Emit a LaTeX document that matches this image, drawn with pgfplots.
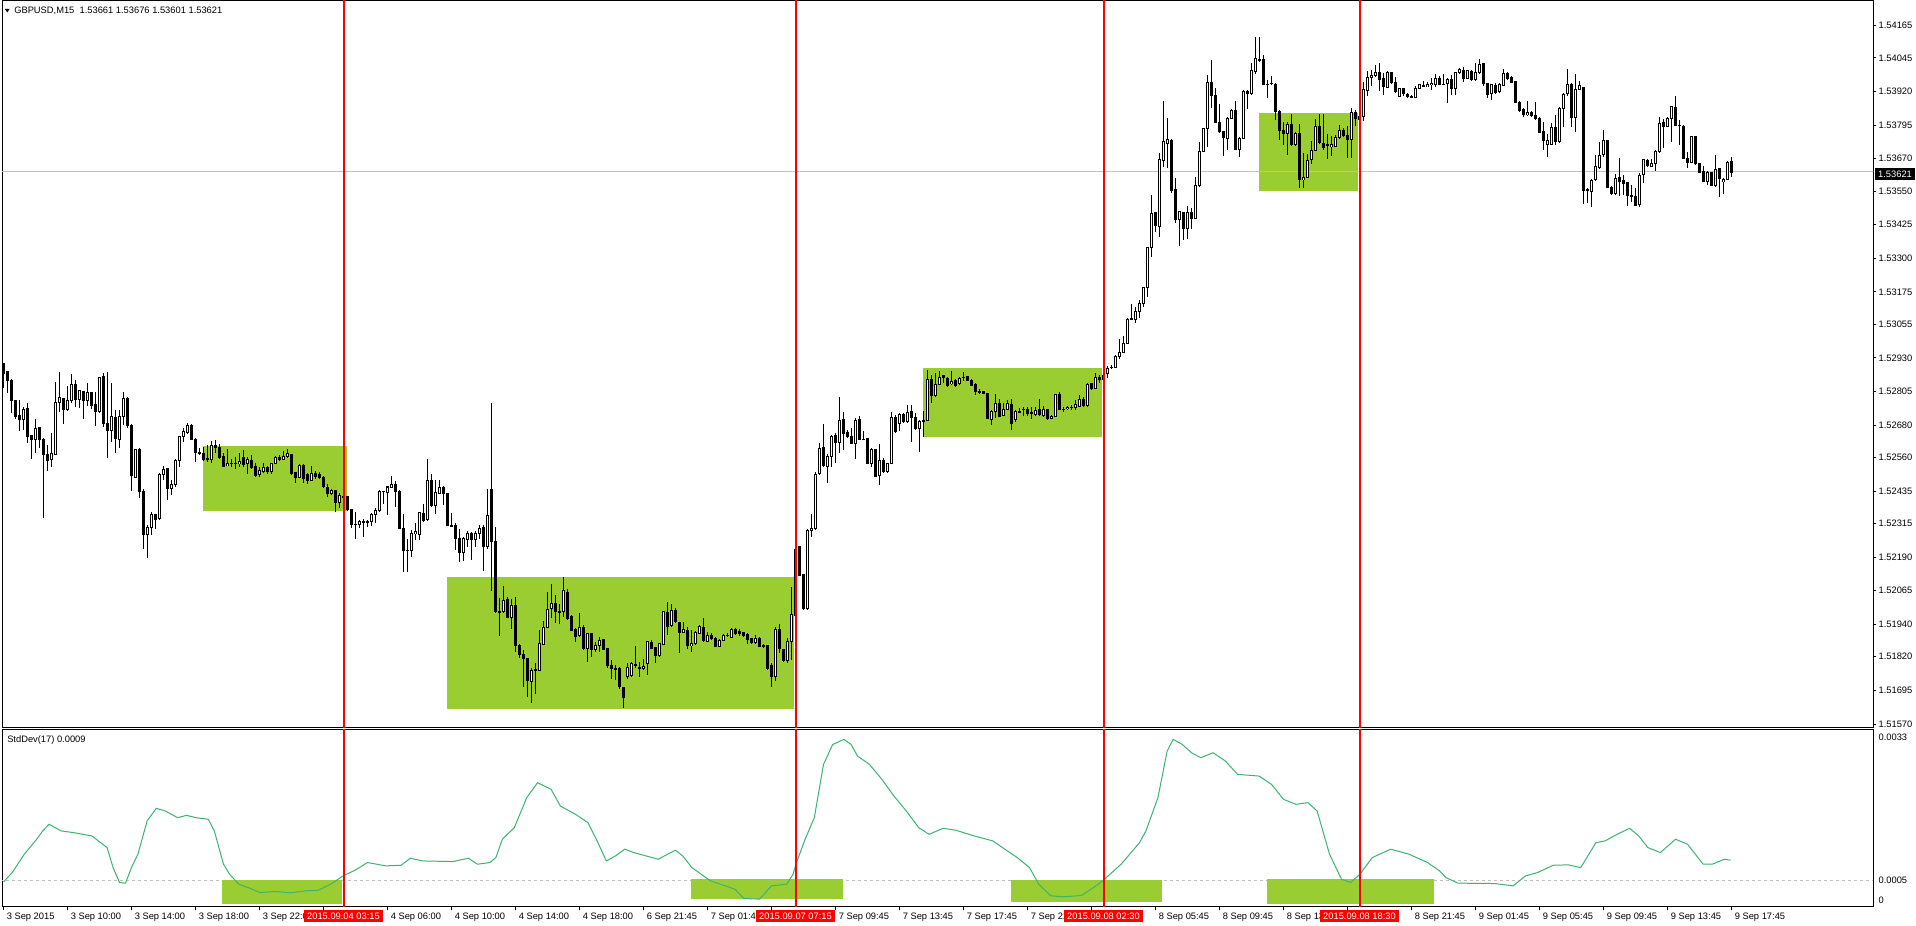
\documentclass[border=0pt]{standalone}
\usepackage{fontspec}
\setmainfont{Liberation Sans}
\usepackage{pgfplots}
\usepackage{pgfplotstable}
\pgfplotsset{compat=1.18}

\definecolor{zone}{RGB}{154,205,50}
\definecolor{sdcol}{RGB}{60,179,113}
\definecolor{lvl}{RGB}{192,192,192}

% GBPUSD M15 bars: index, open, high, low, close
\pgfplotstableread{
i o h l c
0 1.52908 1.52912 1.52817 1.52873
1 1.52879 1.52883 1.52801 1.52848
2 1.52848 1.52851 1.52727 1.52772
3 1.52774 1.52777 1.52706 1.52712
4 1.52718 1.52774 1.52660 1.52704
5 1.52702 1.52749 1.52663 1.52741
6 1.52741 1.52762 1.52613 1.52638
7 1.52640 1.52644 1.52554 1.52628
8 1.52628 1.52702 1.52578 1.52669
9 1.52670 1.52673 1.52595 1.52628
10 1.52629 1.52632 1.52334 1.52572
11 1.52573 1.52607 1.52512 1.52549
12 1.52554 1.52650 1.52526 1.52576
13 1.52573 1.52842 1.52570 1.52767
14 1.52767 1.52877 1.52728 1.52784
15 1.52780 1.52783 1.52685 1.52739
16 1.52739 1.52824 1.52734 1.52773
17 1.52773 1.52871 1.52765 1.52830
18 1.52830 1.52848 1.52748 1.52777
19 1.52777 1.52811 1.52746 1.52808
20 1.52805 1.52809 1.52705 1.52772
21 1.52772 1.52840 1.52753 1.52801
22 1.52801 1.52805 1.52741 1.52754
23 1.52756 1.52805 1.52678 1.52731
24 1.52731 1.52861 1.52727 1.52858
25 1.52863 1.52873 1.52673 1.52687
26 1.52689 1.52879 1.52561 1.52663
27 1.52663 1.52836 1.52619 1.52713
28 1.52711 1.52737 1.52578 1.52630
29 1.52630 1.52739 1.52597 1.52713
30 1.52713 1.52806 1.52680 1.52780
31 1.52780 1.52786 1.52673 1.52681
32 1.52681 1.52684 1.52434 1.52493
33 1.52489 1.52595 1.52488 1.52592
34 1.52592 1.52598 1.52412 1.52434
35 1.52436 1.52444 1.52221 1.52274
36 1.52274 1.52310 1.52188 1.52301
37 1.52301 1.52357 1.52273 1.52351
38 1.52348 1.52353 1.52297 1.52333
39 1.52333 1.52502 1.52328 1.52498
40 1.52498 1.52529 1.52477 1.52518
41 1.52518 1.52520 1.52401 1.52445
42 1.52445 1.52477 1.52419 1.52462
43 1.52462 1.52554 1.52452 1.52549
44 1.52549 1.52642 1.52524 1.52639
45 1.52638 1.52669 1.52619 1.52659
46 1.52656 1.52690 1.52650 1.52681
47 1.52681 1.52684 1.52626 1.52628
48 1.52629 1.52632 1.52545 1.52578
49 1.52580 1.52597 1.52570 1.52576
50 1.52576 1.52601 1.52549 1.52554
51 1.52556 1.52606 1.52544 1.52556
52 1.52554 1.52623 1.52541 1.52606
53 1.52606 1.52624 1.52577 1.52597
54 1.52598 1.52609 1.52556 1.52561
55 1.52564 1.52578 1.52524 1.52526
56 1.52531 1.52592 1.52529 1.52539
57 1.52539 1.52554 1.52524 1.52539
58 1.52539 1.52562 1.52520 1.52539
59 1.52538 1.52576 1.52524 1.52546
60 1.52561 1.52588 1.52524 1.52536
61 1.52539 1.52564 1.52499 1.52554
62 1.52550 1.52570 1.52519 1.52524
63 1.52529 1.52539 1.52487 1.52493
64 1.52498 1.52526 1.52489 1.52510
65 1.52508 1.52541 1.52505 1.52525
66 1.52525 1.52529 1.52499 1.52508
67 1.52508 1.52542 1.52502 1.52539
68 1.52539 1.52566 1.52538 1.52562
69 1.52562 1.52569 1.52546 1.52554
70 1.52554 1.52583 1.52551 1.52566
71 1.52564 1.52593 1.52561 1.52576
72 1.52573 1.52576 1.52495 1.52499
73 1.52504 1.52508 1.52467 1.52487
74 1.52487 1.52536 1.52484 1.52531
75 1.52531 1.52534 1.52465 1.52483
76 1.52500 1.52504 1.52462 1.52477
77 1.52477 1.52531 1.52473 1.52502
78 1.52502 1.52512 1.52479 1.52492
79 1.52498 1.52507 1.52482 1.52487
80 1.52488 1.52491 1.52448 1.52452
81 1.52451 1.52462 1.52415 1.52427
82 1.52427 1.52443 1.52424 1.52439
83 1.52437 1.52442 1.52358 1.52394
84 1.52394 1.52430 1.52374 1.52419
85 1.52415 1.52446 1.52378 1.52415
86 1.52415 1.52419 1.52363 1.52368
87 1.52368 1.52370 1.52300 1.52312
88 1.52313 1.52357 1.52258 1.52313
89 1.52312 1.52328 1.52300 1.52321
90 1.52322 1.52330 1.52266 1.52322
91 1.52323 1.52328 1.52304 1.52323
92 1.52323 1.52354 1.52306 1.52351
93 1.52351 1.52372 1.52318 1.52365
94 1.52363 1.52440 1.52359 1.52436
95 1.52434 1.52436 1.52390 1.52434
96 1.52430 1.52456 1.52348 1.52451
97 1.52450 1.52491 1.52448 1.52462
98 1.52462 1.52474 1.52378 1.52435
99 1.52436 1.52440 1.52295 1.52296
100 1.52297 1.52351 1.52133 1.52216
101 1.52217 1.52259 1.52138 1.52217
102 1.52216 1.52291 1.52190 1.52279
103 1.52276 1.52318 1.52254 1.52284
104 1.52276 1.52358 1.52254 1.52356
105 1.52354 1.52388 1.52322 1.52328
106 1.52328 1.52555 1.52326 1.52476
107 1.52476 1.52499 1.52378 1.52382
108 1.52382 1.52477 1.52351 1.52431
109 1.52427 1.52477 1.52425 1.52447
110 1.52450 1.52455 1.52382 1.52427
111 1.52429 1.52430 1.52305 1.52307
112 1.52308 1.52353 1.52304 1.52308
113 1.52308 1.52316 1.52217 1.52259
114 1.52260 1.52295 1.52174 1.52207
115 1.52207 1.52266 1.52177 1.52260
116 1.52256 1.52286 1.52229 1.52276
117 1.52276 1.52285 1.52180 1.52256
118 1.52256 1.52287 1.52229 1.52279
119 1.52276 1.52310 1.52258 1.52296
120 1.52300 1.52310 1.52140 1.52229
121 1.52229 1.52446 1.52223 1.52347
122 1.52444 1.52764 1.52066 1.52248
123 1.52250 1.52301 1.51984 1.51988
124 1.51988 1.52038 1.51898 1.51988
125 1.51988 1.52083 1.51982 1.52031
126 1.52034 1.52044 1.51963 1.51966
127 1.51966 1.52034 1.51924 1.52013
128 1.52013 1.52041 1.51839 1.51862
129 1.51864 1.51867 1.51815 1.51830
130 1.51831 1.51846 1.51709 1.51815
131 1.51812 1.51815 1.51670 1.51732
132 1.51728 1.51778 1.51648 1.51771
133 1.51773 1.51796 1.51682 1.51773
134 1.51769 1.51920 1.51768 1.51870
135 1.51867 1.51955 1.51864 1.51930
136 1.51930 1.52060 1.51926 1.51997
137 1.51999 1.52091 1.51963 1.52019
138 1.52019 1.52050 1.51945 1.51988
139 1.51988 1.52019 1.51945 1.51988
140 1.51988 1.52116 1.51969 1.52065
141 1.52060 1.52073 1.51957 1.51963
142 1.51972 1.51976 1.51917 1.51920
143 1.51922 1.51926 1.51877 1.51895
144 1.51898 1.51982 1.51895 1.51930
145 1.51932 1.51939 1.51846 1.51852
146 1.51852 1.51910 1.51802 1.51908
147 1.51908 1.51910 1.51821 1.51848
148 1.51848 1.51877 1.51839 1.51864
149 1.51864 1.51895 1.51839 1.51883
150 1.51883 1.51889 1.51846 1.51848
151 1.51851 1.51852 1.51778 1.51787
152 1.51789 1.51809 1.51737 1.51776
153 1.51776 1.51790 1.51734 1.51776
154 1.51778 1.51784 1.51700 1.51712
155 1.51707 1.51709 1.51629 1.51669
156 1.51747 1.51796 1.51740 1.51781
157 1.51753 1.51802 1.51747 1.51796
158 1.51790 1.51861 1.51778 1.51790
159 1.51780 1.51802 1.51747 1.51780
160 1.51778 1.51811 1.51771 1.51786
161 1.51796 1.51879 1.51753 1.51877
162 1.51874 1.51883 1.51848 1.51852
163 1.51853 1.51856 1.51796 1.51825
164 1.51825 1.51873 1.51821 1.51870
165 1.51868 1.51992 1.51864 1.51988
166 1.51988 1.52025 1.51901 1.51936
167 1.51936 1.52019 1.51932 1.51994
168 1.51994 1.52000 1.51947 1.51951
169 1.51948 1.51950 1.51837 1.51910
170 1.51910 1.51951 1.51908 1.51920
171 1.51920 1.51932 1.51852 1.51864
172 1.51863 1.51920 1.51837 1.51868
173 1.51867 1.51914 1.51864 1.51908
174 1.51908 1.51939 1.51905 1.51932
175 1.51930 1.51966 1.51877 1.51879
176 1.51879 1.51914 1.51875 1.51901
177 1.51901 1.51910 1.51883 1.51889
178 1.51889 1.51893 1.51858 1.51860
179 1.51860 1.51889 1.51858 1.51883
180 1.51883 1.51905 1.51879 1.51900
181 1.51900 1.51908 1.51893 1.51900
182 1.51893 1.51926 1.51889 1.51922
183 1.51922 1.51926 1.51901 1.51908
184 1.51914 1.51925 1.51898 1.51905
185 1.51910 1.51913 1.51895 1.51898
186 1.51903 1.51908 1.51868 1.51885
187 1.51888 1.51891 1.51868 1.51873
188 1.51873 1.51901 1.51870 1.51887
189 1.51887 1.51895 1.51856 1.51858
190 1.51864 1.51870 1.51852 1.51858
191 1.51860 1.51863 1.51771 1.51778
192 1.51787 1.51796 1.51709 1.51747
193 1.51747 1.51932 1.51728 1.51922
194 1.51922 1.51942 1.51833 1.51852
195 1.51846 1.51848 1.51802 1.51806
196 1.51806 1.51889 1.51796 1.51877
197 1.51877 1.52081 1.51809 1.51979
198 1.51973 1.52248 1.51969 1.52220
199 1.52229 1.52233 1.52122 1.52124
200 1.52128 1.52130 1.51994 1.52000
201 1.51998 1.52294 1.51994 1.52291
202 1.52291 1.52353 1.52267 1.52298
203 1.52298 1.52508 1.52291 1.52499
204 1.52499 1.52613 1.52496 1.52595
205 1.52598 1.52685 1.52527 1.52529
206 1.52527 1.52576 1.52467 1.52564
207 1.52564 1.52644 1.52527 1.52639
208 1.52644 1.52650 1.52539 1.52616
209 1.52616 1.52784 1.52576 1.52700
210 1.52700 1.52730 1.52588 1.52650
211 1.52655 1.52663 1.52632 1.52638
212 1.52640 1.52669 1.52611 1.52613
213 1.52613 1.52706 1.52554 1.52700
214 1.52700 1.52715 1.52626 1.52629
215 1.52629 1.52660 1.52626 1.52629
216 1.52632 1.52634 1.52536 1.52539
217 1.52539 1.52595 1.52527 1.52591
218 1.52591 1.52595 1.52489 1.52493
219 1.52493 1.52613 1.52458 1.52549
220 1.52551 1.52557 1.52504 1.52508
221 1.52508 1.52541 1.52504 1.52539
222 1.52539 1.52731 1.52536 1.52710
223 1.52710 1.52718 1.52653 1.52657
224 1.52687 1.52727 1.52660 1.52722
225 1.52722 1.52727 1.52690 1.52694
226 1.52694 1.52756 1.52690 1.52727
227 1.52731 1.52756 1.52617 1.52712
228 1.52710 1.52727 1.52665 1.52669
229 1.52669 1.52700 1.52582 1.52696
230 1.52697 1.52735 1.52638 1.52697
231 1.52697 1.52886 1.52694 1.52851
232 1.52851 1.52868 1.52762 1.52791
233 1.52791 1.52874 1.52787 1.52833
234 1.52833 1.52880 1.52830 1.52859
235 1.52864 1.52868 1.52839 1.52855
236 1.52855 1.52859 1.52824 1.52830
237 1.52834 1.52880 1.52830 1.52843
238 1.52846 1.52855 1.52824 1.52828
239 1.52834 1.52861 1.52830 1.52853
240 1.52858 1.52876 1.52843 1.52858
241 1.52861 1.52864 1.52843 1.52846
242 1.52849 1.52851 1.52827 1.52830
243 1.52833 1.52837 1.52793 1.52806
244 1.52806 1.52814 1.52797 1.52806
245 1.52804 1.52809 1.52797 1.52799
246 1.52799 1.52802 1.52703 1.52704
247 1.52704 1.52738 1.52682 1.52731
248 1.52731 1.52797 1.52707 1.52762
249 1.52762 1.52777 1.52710 1.52713
250 1.52719 1.52762 1.52713 1.52740
251 1.52740 1.52775 1.52738 1.52762
252 1.52759 1.52778 1.52663 1.52686
253 1.52700 1.52738 1.52694 1.52731
254 1.52731 1.52744 1.52725 1.52731
255 1.52740 1.52750 1.52713 1.52740
256 1.52740 1.52750 1.52713 1.52725
257 1.52728 1.52750 1.52703 1.52728
258 1.52721 1.52747 1.52717 1.52738
259 1.52738 1.52778 1.52713 1.52719
260 1.52718 1.52750 1.52710 1.52738
261 1.52738 1.52740 1.52700 1.52707
262 1.52707 1.52719 1.52703 1.52715
263 1.52713 1.52797 1.52710 1.52793
264 1.52793 1.52802 1.52738 1.52740
265 1.52740 1.52750 1.52731 1.52740
266 1.52740 1.52752 1.52735 1.52747
267 1.52747 1.52756 1.52738 1.52747
268 1.52744 1.52775 1.52738 1.52756
269 1.52752 1.52793 1.52750 1.52777
270 1.52778 1.52787 1.52750 1.52756
271 1.52754 1.52837 1.52747 1.52833
272 1.52834 1.52837 1.52814 1.52818
273 1.52818 1.52876 1.52814 1.52859
274 1.52859 1.52868 1.52837 1.52849
275 1.52849 1.52871 1.52830 1.52864
276 1.52871 1.52901 1.52855 1.52892
277 1.52896 1.52903 1.52889 1.52896
278 1.52896 1.52942 1.52892 1.52936
279 1.52936 1.53000 1.52929 1.52952
280 1.52952 1.53012 1.52948 1.52985
281 1.52985 1.53078 1.52983 1.53074
282 1.53076 1.53131 1.53072 1.53076
283 1.53076 1.53121 1.53059 1.53103
284 1.53103 1.53146 1.53078 1.53134
285 1.53134 1.53196 1.53121 1.53193
286 1.53193 1.53344 1.53156 1.53340
287 1.53340 1.53536 1.53305 1.53468
288 1.53470 1.53474 1.53400 1.53422
289 1.53418 1.53691 1.53381 1.53666
290 1.53666 1.53885 1.53641 1.53734
291 1.53728 1.53821 1.53635 1.53744
292 1.53740 1.53743 1.53542 1.53552
293 1.53555 1.53598 1.53431 1.53447
294 1.53447 1.53477 1.53347 1.53474
295 1.53472 1.53474 1.53371 1.53412
296 1.53412 1.53493 1.53371 1.53472
297 1.53472 1.53487 1.53412 1.53449
298 1.53449 1.53604 1.53446 1.53573
299 1.53573 1.53734 1.53567 1.53699
300 1.53699 1.53787 1.53697 1.53782
301 1.53782 1.53982 1.53712 1.53954
302 1.53954 1.54037 1.53858 1.53905
303 1.53907 1.53932 1.53802 1.53806
304 1.53806 1.53876 1.53768 1.53771
305 1.53771 1.53771 1.53681 1.53750
306 1.53746 1.53827 1.53703 1.53821
307 1.53821 1.53854 1.53818 1.53849
308 1.53849 1.53885 1.53703 1.53706
309 1.53706 1.53753 1.53676 1.53746
310 1.53746 1.53924 1.53743 1.53920
311 1.53920 1.53926 1.53854 1.53911
312 1.53911 1.54028 1.53907 1.53997
313 1.53994 1.54122 1.53984 1.54044
314 1.54040 1.54122 1.54031 1.54035
315 1.54040 1.54056 1.53945 1.53947
316 1.53947 1.53961 1.53895 1.53947
317 1.53951 1.53978 1.53945 1.53951
318 1.53948 1.53951 1.53815 1.53846
319 1.53846 1.53852 1.53738 1.53775
320 1.53777 1.53808 1.53722 1.53765
321 1.53765 1.53805 1.53685 1.53798
322 1.53798 1.53836 1.53718 1.53724
323 1.53722 1.53771 1.53716 1.53765
324 1.53765 1.53802 1.53561 1.53594
325 1.53592 1.53691 1.53561 1.53602
326 1.53602 1.53687 1.53598 1.53666
327 1.53666 1.53738 1.53651 1.53701
328 1.53701 1.53817 1.53697 1.53790
329 1.53790 1.53836 1.53725 1.53730
330 1.53725 1.53837 1.53703 1.53713
331 1.53722 1.53765 1.53672 1.53722
332 1.53714 1.53753 1.53678 1.53724
333 1.53716 1.53759 1.53713 1.53750
334 1.53750 1.53796 1.53746 1.53775
335 1.53777 1.53784 1.53753 1.53756
336 1.53759 1.53790 1.53672 1.53743
337 1.53743 1.53858 1.53672 1.53843
338 1.53842 1.53852 1.53790 1.53821
339 1.53818 1.53833 1.53784 1.53827
340 1.53827 1.53957 1.53812 1.53930
341 1.53924 1.53998 1.53904 1.53973
342 1.53973 1.54000 1.53941 1.53982
343 1.53979 1.54019 1.53976 1.53990
344 1.53990 1.54028 1.53924 1.53966
345 1.53969 1.53988 1.53907 1.53938
346 1.53935 1.53998 1.53932 1.53992
347 1.53992 1.53994 1.53948 1.53953
348 1.53953 1.53973 1.53916 1.53920
349 1.53901 1.53932 1.53899 1.53930
350 1.53930 1.53932 1.53904 1.53911
351 1.53911 1.53916 1.53895 1.53904
352 1.53901 1.53906 1.53899 1.53901
353 1.53898 1.53941 1.53895 1.53932
354 1.53932 1.53947 1.53928 1.53945
355 1.53942 1.53958 1.53938 1.53942
356 1.53938 1.53957 1.53936 1.53947
357 1.53947 1.53969 1.53926 1.53951
358 1.53947 1.53985 1.53938 1.53969
359 1.53969 1.53976 1.53945 1.53948
360 1.53948 1.53985 1.53945 1.53948
361 1.53951 1.53969 1.53876 1.53963
362 1.53963 1.53982 1.53907 1.53932
363 1.53932 1.53994 1.53907 1.53992
364 1.53992 1.54009 1.53985 1.54003
365 1.54000 1.54013 1.53957 1.53969
366 1.53969 1.54000 1.53966 1.53998
367 1.53994 1.54000 1.53959 1.53963
368 1.53963 1.54025 1.53961 1.53990
369 1.53990 1.54040 1.53985 1.54023
370 1.54023 1.54025 1.53941 1.53951
371 1.53951 1.53953 1.53895 1.53911
372 1.53911 1.53947 1.53889 1.53945
373 1.53945 1.53951 1.53911 1.53916
374 1.53920 1.53951 1.53916 1.53945
375 1.53942 1.54003 1.53941 1.53988
376 1.53988 1.53994 1.53963 1.53969
377 1.53971 1.53976 1.53951 1.53953
378 1.53957 1.53959 1.53876 1.53880
379 1.53881 1.53886 1.53846 1.53852
380 1.53854 1.53858 1.53827 1.53836
381 1.53833 1.53883 1.53829 1.53843
382 1.53844 1.53846 1.53827 1.53831
383 1.53833 1.53883 1.53815 1.53820
384 1.53820 1.53825 1.53765 1.53769
385 1.53771 1.53805 1.53703 1.53740
386 1.53724 1.53765 1.53678 1.53740
387 1.53724 1.53805 1.53722 1.53787
388 1.53786 1.53833 1.53722 1.53734
389 1.53734 1.53864 1.53728 1.53858
390 1.53858 1.53914 1.53790 1.53911
391 1.53911 1.54003 1.53904 1.53948
392 1.53948 1.53951 1.53790 1.53825
393 1.53825 1.53985 1.53771 1.53928
394 1.53928 1.53959 1.53926 1.53941
395 1.53936 1.53938 1.53505 1.53552
396 1.53555 1.53561 1.53505 1.53555
397 1.53552 1.53594 1.53493 1.53592
398 1.53592 1.53685 1.53589 1.53641
399 1.53639 1.53734 1.53635 1.53685
400 1.53685 1.53777 1.53678 1.53738
401 1.53738 1.53740 1.53561 1.53563
402 1.53565 1.53569 1.53536 1.53542
403 1.53542 1.53614 1.53536 1.53598
404 1.53602 1.53672 1.53532 1.53586
405 1.53588 1.53610 1.53536 1.53579
406 1.53582 1.53584 1.53495 1.53532
407 1.53536 1.53573 1.53511 1.53530
408 1.53532 1.53561 1.53495 1.53499
409 1.53501 1.53617 1.53493 1.53610
410 1.53610 1.53669 1.53582 1.53666
411 1.53666 1.53669 1.53641 1.53644
412 1.53641 1.53669 1.53639 1.53654
413 1.53654 1.53703 1.53625 1.53699
414 1.53697 1.53827 1.53691 1.53802
415 1.53805 1.53817 1.53709 1.53792
416 1.53792 1.53827 1.53790 1.53821
417 1.53821 1.53867 1.53734 1.53864
418 1.53860 1.53904 1.53792 1.53796
419 1.53796 1.53815 1.53722 1.53796
420 1.53792 1.53796 1.53669 1.53672
421 1.53672 1.53697 1.53635 1.53656
422 1.53656 1.53755 1.53654 1.53753
423 1.53753 1.53755 1.53647 1.53651
424 1.53651 1.53654 1.53617 1.53619
425 1.53623 1.53644 1.53583 1.53586
426 1.53586 1.53623 1.53573 1.53621
427 1.53621 1.53624 1.53571 1.53573
428 1.53573 1.53685 1.53567 1.53631
429 1.53633 1.53635 1.53530 1.53598
430 1.53584 1.53598 1.53540 1.53594
431 1.53594 1.53664 1.53592 1.53657
432 1.53661 1.53676 1.53601 1.53621
}\bars

% StdDev(17)
\pgfplotstableread{
i v
0 0.000469
2.2 0.000655
5.2 0.001018
8.3 0.001316
9.8 0.001481
11.4 0.001613
14.4 0.001481
17.5 0.001448
22.1 0.001381
25.9 0.001150
27.4 0.000753
29.0 0.000457
30.5 0.000444
32.0 0.000753
33.6 0.001018
35.9 0.001679
38.2 0.001930
40.5 0.001876
43.5 0.001744
45.8 0.001790
48.1 0.001744
51.2 0.001711
52.7 0.001481
55.0 0.000820
56.5 0.000622
58.8 0.000423
61.1 0.000357
64.2 0.000257
68.0 0.000278
71.8 0.000252
75.7 0.000292
78.7 0.000303
81.8 0.000423
84.9 0.000588
87.9 0.000701
91.0 0.000853
95.6 0.000787
99.4 0.000799
101.7 0.000939
104.8 0.000885
112.4 0.000872
116.2 0.000939
118.5 0.000820
121.6 0.000853
123.1 0.000953
124.7 0.001316
127.7 0.001546
130.8 0.002141
133.5 0.002439
136.9 0.002307
139.2 0.001976
143.0 0.001811
146.1 0.001646
148.4 0.001283
150.7 0.000885
153.0 0.000985
155.3 0.001118
157.6 0.001051
160.6 0.000985
163.7 0.000918
166.0 0.001018
168.0 0.001097
169.8 0.000985
172.1 0.000753
176.7 0.000490
180.5 0.000390
182.8 0.000325
185.1 0.000138
189.0 0.000127
192.0 0.000390
195.8 0.000423
197.4 0.000622
198.1 0.000820
200.4 0.001316
202.7 0.001744
205.0 0.002802
207.3 0.003198
210.1 0.003298
211.9 0.003198
213.5 0.002967
216.5 0.002802
219.6 0.002504
222.6 0.002174
225.7 0.001876
228.8 0.001546
231.4 0.001414
234.9 0.001533
238.1 0.001494
242.7 0.001381
247.3 0.001283
253.4 0.000953
256.5 0.000753
258.8 0.000423
261.8 0.000192
264.9 0.000173
269.5 0.000198
272.5 0.000357
274.8 0.000490
279.4 0.000820
284.0 0.001248
285.6 0.001481
288.6 0.002141
290.9 0.003065
292.4 0.003298
294.7 0.003198
297.0 0.003033
299.3 0.002935
302.4 0.003033
305.5 0.002867
308.5 0.002604
313.9 0.002570
317.0 0.002405
320.0 0.002109
323.1 0.002009
326.1 0.002042
328.4 0.001876
331.5 0.001018
334.5 0.000522
336.8 0.000457
339.1 0.000622
342.2 0.000953
346.8 0.001118
351.4 0.001018
356.0 0.000853
359.0 0.000688
360.6 0.000555
363.6 0.000444
372.8 0.000436
377.4 0.000390
380.5 0.000588
383.5 0.000655
387.4 0.000799
391.2 0.000807
394.3 0.000753
398.1 0.001248
400.4 0.001283
403.4 0.001414
406.5 0.001533
408.8 0.001381
411.1 0.001150
414.2 0.001051
418.0 0.001316
421.0 0.001216
424.9 0.000820
427.2 0.000820
430.2 0.000918
431.8 0.000899
}\sdev

\newcommand{\tickfont}{\fontsize{7}{8}\selectfont}

\pgfplotsset{
  mt/.style={
    scale only axis, width=1403.25pt,
    xmin=-0.375, xmax=467.375,
    axis line style={black, line width=0.75pt},
    tick style={black, line width=0.75pt},
    tick align=outside,
    major tick length=2.5pt,
    ticklabel style={font=\tickfont, inner sep=0pt},
    ytick pos=right, yticklabel pos=right,
    yticklabel style={anchor=west, xshift=1.5pt},
    scaled y ticks=false,
  },
  candle/.style={draw=none, mark=none, forget plot,
    error bars/y dir=both, error bars/y explicit, error bars/error mark=none},
}

\begin{document}
\begin{tikzpicture}
\path[use as bounding box, fill=white] (0pt,0pt) rectangle (1437pt,693.75pt);

% price window
\begin{axis}[mt, at={(1.5pt,148.5pt)}, anchor=south west, height=544.5pt,
  ymin=1.515589, ymax=1.542560, xtick=\empty,
  ytick={1.51570,1.51695,1.51820,1.51940,1.52065,1.52190,1.52315,1.52435,1.52560,1.52680,1.52805,1.52930,1.53055,1.53175,1.53300,1.53425,1.53550,1.53670,1.53795,1.53920,1.54045,1.54165},
  yticklabels={1.51570,1.51695,1.51820,1.51940,1.52065,1.52190,1.52315,1.52435,1.52560,1.52680,1.52805,1.52930,1.53055,1.53175,1.53300,1.53425,1.53550,1.53670,1.53795,1.53920,1.54045,1.54165}]
  \addplot[draw=none, fill=zone] coordinates {(49.9,1.52603) (85.9,1.52603) (85.9,1.52361) (49.9,1.52361)} --cycle;
  \addplot[draw=none, fill=zone] coordinates {(110.9,1.52116) (197.6,1.52116) (197.6,1.51626) (110.9,1.51626)} --cycle;
  \addplot[draw=none, fill=zone] coordinates {(229.9,1.52893) (274.6,1.52893) (274.6,1.52636) (229.9,1.52636)} --cycle;
  \addplot[draw=none, fill=zone] coordinates {(313.9,1.53840) (338.6,1.53840) (338.6,1.53550) (313.9,1.53550)} --cycle;
  \addplot[lvl, line width=0.75pt] coordinates {(-1,1.53621) (470,1.53621)};
  % wicks
  \addplot[candle, error bars/error bar style={draw=black, line width=0.75pt}]
    table[x=i, y expr=(\thisrow{h}+\thisrow{l})/2, y error expr=(\thisrow{h}-\thisrow{l})/2] {\bars};
  % bodies
  \addplot[candle, error bars/error bar style={draw=black, line width=2.25pt}]
    table[x=i, y expr=(\thisrow{o}+\thisrow{c})/2, y error expr={abs(\thisrow{o}-\thisrow{c})/2+0.0000186}] {\bars};
  % hollow inside of rising bars (zero length for falling ones)
  \addplot[candle, error bars/error bar style={draw=white, line width=0.75pt}]
    table[x=i, y expr=(\thisrow{o}+\thisrow{c})/2, y error expr={max((\thisrow{c}-\thisrow{o})/2-0.0000186,0)}] {\bars};
  \addplot[red, line width=1.5pt] coordinates {(85,1.515) (85,1.543)};
  \addplot[red, line width=1.5pt] coordinates {(198,1.515) (198,1.543)};
  \addplot[red, line width=1.5pt] coordinates {(275,1.515) (275,1.543)};
  \addplot[red, line width=1.5pt] coordinates {(339,1.515) (339,1.543)};
\end{axis}

% StdDev window
\begin{axis}[mt, at={(1.5pt,13.875pt)}, anchor=south west, height=133.125pt,
  ymin=-0.0000199, ymax=0.003505,
  xtick={0,16,...,432}, xtick pos=bottom,
  xticklabels={3 Sep 2015,3 Sep 10:00,3 Sep 14:00,3 Sep 18:00,3 Sep 22:0,{},4 Sep 06:00,4 Sep 10:00,4 Sep 14:00,4 Sep 18:00,6 Sep 21:45,7 Sep 01:45,{},7 Sep 09:45,7 Sep 13:45,7 Sep 17:45,7 Sep 21,{},8 Sep 05:45,8 Sep 09:45,8 Sep 13,{},8 Sep 21:45,9 Sep 01:45,9 Sep 05:45,9 Sep 09:45,9 Sep 13:45,9 Sep 17:45},
  xticklabel style={anchor=north west, xshift=2.25pt, yshift=-2pt},
  ytick={0.000103,0.0005,0.003346}, yticklabels={0,0.0005,0.0033},
  ytick style={draw=none}]
  \addplot[lvl, line width=0.75pt, dash pattern=on 2.25pt off 2.25pt] coordinates {(-1,0.0005) (470,0.0005)};
  \addplot[draw=none, fill=zone] coordinates {(54.7,0.000506) (84.55,0.000506) (84.55,0.0000357) (54.7,0.0000357)} --cycle;
  \addplot[draw=none, fill=zone] coordinates {(171.8,0.000526) (209.9,0.000526) (209.9,0.000135) (171.8,0.000135)} --cycle;
  \addplot[draw=none, fill=zone] coordinates {(251.9,0.000506) (289.7,0.000506) (289.7,0.0000755) (251.9,0.0000755)} --cycle;
  \addplot[draw=none, fill=zone] coordinates {(315.9,0.000526) (357.7,0.000526) (357.7,0.0000357) (315.9,0.0000357)} --cycle;
  \addplot[sdcol, line width=0.75pt] table[x=i, y=v] {\sdev};
  \addplot[red, line width=1.5pt] coordinates {(85,-0.0001) (85,0.0036)};
  \addplot[red, line width=1.5pt] coordinates {(198,-0.0001) (198,0.0036)};
  \addplot[red, line width=1.5pt] coordinates {(275,-0.0001) (275,0.0036)};
  \addplot[red, line width=1.5pt] coordinates {(339,-0.0001) (339,0.0036)};
\end{axis}

\begin{scope}[x=0.75pt, y=0.75pt]
% window captions
\fill[black] (5,916) -- (9.5,916) -- (7.25,912.5) -- cycle;
\node[anchor=base west, inner sep=0pt, font=\tickfont] at (14,911) {GBPUSD,M15\ \ 1.53661 1.53676 1.53601 1.53621};
\node[anchor=base west, inner sep=0pt, font=\tickfont] at (7,183) {StdDev(17) 0.0009};
% bid price tag
\node[fill=black, text=white, inner sep=0pt, minimum width=30pt, minimum height=9pt, font=\tickfont] at (1895,751) {1.53621};
% time tags of the vertical lines
\foreach \xx/\lab in {343.5/2015.09.04 03:15, 795.5/2015.09.07 07:15, 1103.5/2015.09.08 02:30, 1359.5/2015.09.08 18:30}
  \node[fill=red, text=white, inner sep=0pt, minimum width=59.25pt, minimum height=9pt, font=\tickfont] at (\xx,9) {\lab};
\end{scope}
\end{tikzpicture}
\end{document}
